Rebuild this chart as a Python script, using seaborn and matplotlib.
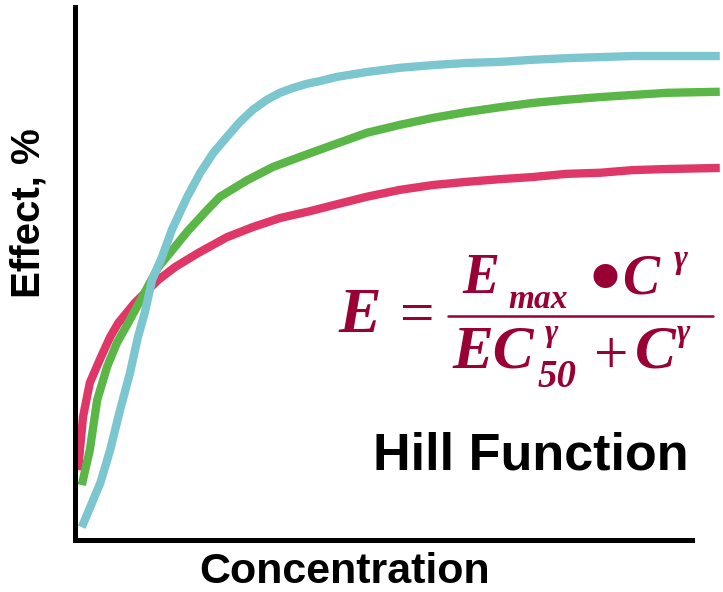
import matplotlib
matplotlib.use("Agg")
import matplotlib.pyplot as plt
from matplotlib.lines import Line2D
import seaborn as sns
import pandas as pd

# Concentration (arbitrary units, axis spans 0-100) and effect (%) for three Hill curves
conc_low = [0.5, 1.3, 2.4, 4.2, 5.7, 7.0, 9.7, 13.5, 16.2, 19.9, 24.6, 28.8, 33.2,
            38.1, 41.8, 47.3, 52.7, 58.0, 63.5, 68.9, 74.2, 79.7, 85.1, 90.4, 95.9, 104.5]
effect_low = [13.1, 23.1, 29.5, 34.3, 38.1, 40.7, 44.5, 48.8, 51.2, 53.8, 56.8, 58.7, 60.4,
              61.7, 62.8, 64.4, 65.7, 66.6, 67.2, 67.7, 68.1, 68.7, 68.9, 69.4, 69.6, 69.8]

conc_mid = [1.1, 2.4, 3.6, 5.2, 6.8, 8.6, 10.9, 13.5, 16.2, 18.3, 21.4, 23.5, 27.9, 32.1,
            36.5, 40.8, 47.3, 52.7, 58.0, 63.5, 68.9, 74.2, 79.7, 85.1, 90.4, 95.9, 104.5]
effect_mid = [10.3, 16.9, 26.3, 32.5, 37.0, 40.7, 45.6, 51.2, 55.0, 58.0, 61.9, 64.4, 67.5, 70.0,
              71.9, 73.7, 76.4, 77.9, 79.2, 80.3, 81.2, 82.0, 82.6, 83.1, 83.5, 83.9, 84.1]

conc_high = [1.1, 4.1, 5.7, 7.3, 8.9, 10.2, 11.3, 12.5, 14.1, 15.7, 18.2, 20.3, 22.4, 24.6,
             26.7, 28.8, 31.1, 33.2, 35.3, 37.6, 39.7, 42.5, 47.3, 52.7, 58.0, 63.5, 68.9,
             74.2, 79.7, 85.1, 90.4, 95.9, 104.5]
effect_high = [2.4, 10.7, 16.9, 24.4, 31.3, 38.1, 42.6, 48.8, 53.1, 58.2, 64.4, 68.9, 72.6, 75.6,
               78.4, 80.7, 82.6, 83.9, 84.8, 85.6, 86.1, 86.9, 87.8, 88.6, 89.1, 89.5, 89.7,
               90.1, 90.4, 90.6, 90.8, 90.8, 90.8]

series_names = ["low", "mid", "high"]
series_colors = ["#DF3767", "#5AB646", "#7CC6D0"]

frames = []
for name, cx, ey in zip(series_names,
                        [conc_low, conc_mid, conc_high],
                        [effect_low, effect_mid, effect_high]):
    frames.append(pd.DataFrame({"Concentration": cx, "Effect": ey, "curve": name}))
df = pd.concat(frames, ignore_index=True)

sns.set_theme(style="white")
plt.rcParams["font.family"] = ["Liberation Sans", "DejaVu Sans"]

W, H = 723, 592
MAROON = "#990033"
fig = plt.figure(figsize=(W / 100, H / 100), dpi=100)
ax = fig.add_axes([75 / W, (H - 540) / H, (692 - 75) / W, (540 - 7) / H])

sns.lineplot(data=df, x="Concentration", y="Effect", hue="curve",
             hue_order=series_names, palette=series_colors, sort=False,
             estimator=None, linewidth=6, legend=False, ax=ax,
             clip_on=False, solid_capstyle="butt")

ax.set_xlim(0, 100)
ax.set_ylim(0, 100)
ax.set_xticks([])
ax.set_yticks([])
ax.set_xlabel("")
ax.set_ylabel("")
for side in ["top", "right"]:
    ax.spines[side].set_visible(False)
for side in ["left", "bottom"]:
    ax.spines[side].set_color("black")
    ax.spines[side].set_linewidth(3.6)


def px(x, y):
    """Pixel position (from top-left) to figure fraction."""
    return x / W, 1 - y / H


fig.text(*px(345, 583), "Concentration", fontsize=31, fontweight="bold",
         color="black", ha="center", va="baseline")
fig.text(*px(29, 213), "Effect, %", fontsize=29, fontweight="bold",
         color="black", ha="center", va="center", rotation=90)
fig.text(*px(531, 470), "Hill Function", fontsize=37.5, fontweight="bold",
         color="black", ha="center", va="baseline")


def term(x, y, s, size, italic=True, bold=True, ha="left"):
    fig.text(*px(x, y), s, fontsize=size, color=MAROON, family="Liberation Serif",
             style="italic" if italic else "normal",
             weight="bold" if bold else "normal", ha=ha, va="baseline")


# Hill equation: E = Emax * C^g / (EC50^g + C^g)
term(338, 332, "E", 46)
term(417, 333, "=", 44, italic=False, bold=False, ha="center")
# numerator
term(462, 293, "E", 40)
term(508, 308, "max", 24)
term(605, 305, "\u2022", 64, italic=False, ha="center")
term(622, 293, "C", 40)
term(674, 268, "\u03b3", 24)
# fraction bar
fig.add_artist(Line2D([448 / W, 713 / W], [1 - 316 / H, 1 - 316 / H],
                      color=MAROON, linewidth=1.8, transform=fig.transFigure))
# denominator
term(452, 368, "EC", 44)
term(545, 341, "\u03b3", 23)
term(538, 387, "50", 28)
term(611, 373, "+", 44, italic=False, bold=False, ha="center")
term(635, 368, "C", 44)
term(677, 341, "\u03b3", 23)

fig.savefig("out.png", dpi=100)
